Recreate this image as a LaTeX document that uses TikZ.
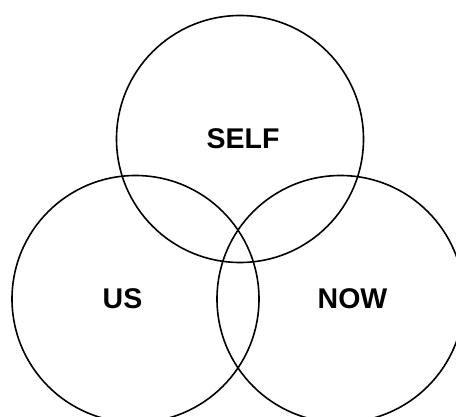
\documentclass[tikz,border=0pt]{standalone}
\usepackage{fontspec}
\setmainfont{Liberation Sans}
\usetikzlibrary{positioning}

\begin{document}
\begin{tikzpicture}[x=1pt,y=-1pt,
    ring/.style={circle, draw=black, line width=1.6pt, minimum size=247pt, inner sep=0pt},
    word/.style={font=\fontsize{28.5}{31}\selectfont\bfseries, inner sep=0pt}]
      \useasboundingbox (0,0) rectangle (456,417);
      % the three circles
      \node[ring] (self) at (240,139) {};
      \node[ring] (us) at (135.5,299) {};
      \node[ring] (now) at (340.5,299) {};
      % labels
      \node[word] (selflabel) at ([xshift=3pt]self.center) {SELF};
      \node[word] (uslabel) at ([xshift=-13pt]us.center) {US};
      \node[word] (nowlabel) at ([xshift=12pt]now.center) {NOW};
    \end{tikzpicture}
\end{document}
